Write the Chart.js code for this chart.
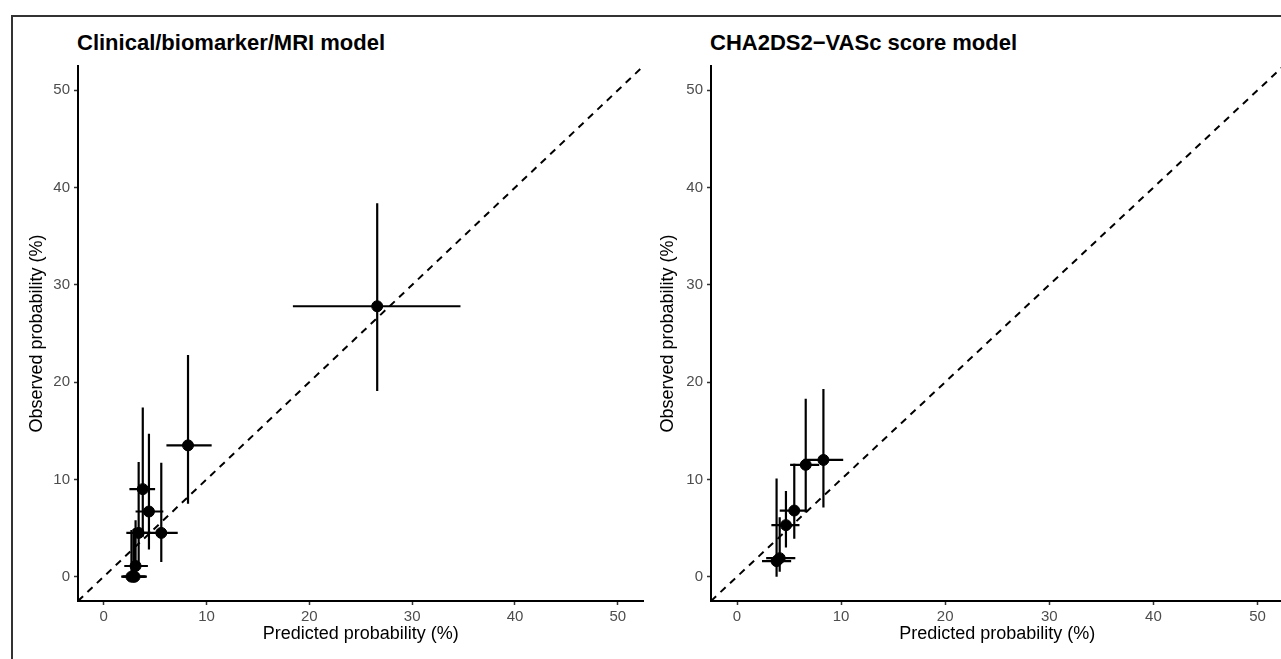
<!DOCTYPE html>
<html>
<head>
<meta charset="utf-8">
<script src="https://cdn.jsdelivr.net/npm/chart.js@4/dist/chart.umd.min.js"></script>
<style>
  html, body { margin: 0; padding: 0; background: #fff; overflow: hidden; }
  body { width: 1281px; height: 659px; position: relative; font-family: 'Liberation Sans', Arial, sans-serif; }
  #frame { position: absolute; left: 11px; top: 15px; width: 1300px; height: 700px; border: 2px solid #333; }
  .panelTitle { position: absolute; top: 30px; font-weight: bold; font-size: 22px; color: #000; white-space: nowrap; }
  #leftWrap { position: absolute; left: 14px; top: 18px; width: 636px; height: 641px; }
  #rightWrap { position: absolute; left: 650px; top: 18px; width: 640px; height: 641px; }
</style>
</head>
<body>
<div id="frame"></div>
<div class="panelTitle" style="left:77px">Clinical/biomarker/MRI model</div>
<div class="panelTitle" style="left:710px">CHA2DS2−VASc score model</div>
<div id="leftWrap"><canvas id="leftChart" width="636" height="641"></canvas></div>
<div id="rightWrap"><canvas id="rightChart" width="640" height="641"></canvas></div>
<script>
// tick labels, same on both axes of both panels
const tickVals = [0, 10, 20, 30, 40, 50];
const axisMin = -2.5;
const axisMax = 52.5;

// Clinical/biomarker/MRI model (%), risk groups
const leftPred   = [2.7, 2.9, 3.0, 3.1, 3.4, 3.8, 4.4, 5.6, 8.2, 26.6];
const leftObs    = [0.0, 0.0, 0.0, 1.1, 4.5, 9.0, 6.7, 4.5, 13.5, 27.8];
const leftPredLo = [1.7, 1.8, 1.9, 2.0, 2.2, 2.5, 3.1, 4.0, 6.1, 18.4];
const leftPredHi = [4.0, 4.1, 4.2, 4.3, 4.6, 5.0, 5.8, 7.2, 10.5, 34.7];
const leftObsLo  = [0.0, 0.0, 0.0, 0.1, 1.0, 4.1, 2.8, 1.5, 7.5, 19.1];
const leftObsHi  = [4.8, 4.9, 5.0, 5.8, 11.8, 17.4, 14.7, 11.7, 22.8, 38.4];

// CHA2DS2-VASc score model (%)
const rightPred   = [3.8, 4.1, 4.7, 5.5, 6.6, 8.3];
const rightObs    = [1.6, 1.9, 5.3, 6.8, 11.5, 12.0];
const rightPredLo = [2.4, 2.8, 3.3, 4.1, 5.1, 6.4];
const rightPredHi = [5.2, 5.6, 6.0, 6.7, 7.9, 10.2];
const rightObsLo  = [0.0, 0.5, 3.0, 3.9, 6.6, 7.1];
const rightObsHi  = [10.1, 6.1, 8.8, 11.6, 18.3, 19.3];

Chart.defaults.font.family = "'Liberation Sans', Arial, sans-serif";
Chart.defaults.animation = false;

// crosses for the confidence intervals, drawn under the points
function errorBars(pred, obs, predLo, predHi, obsLo, obsHi) {
  return {
    id: 'errorBars',
    beforeDatasetsDraw(chart) {
      const {ctx, chartArea, scales: {x, y}} = chart;
      ctx.save();
      ctx.beginPath();
      ctx.rect(chartArea.left, chartArea.top, chartArea.right - chartArea.left, chartArea.bottom - chartArea.top);
      ctx.clip();
      ctx.strokeStyle = '#000';
      ctx.lineWidth = 2.2;
      pred.forEach((p, i) => {
        ctx.beginPath();
        ctx.moveTo(x.getPixelForValue(predLo[i]), y.getPixelForValue(obs[i]));
        ctx.lineTo(x.getPixelForValue(predHi[i]), y.getPixelForValue(obs[i]));
        ctx.moveTo(x.getPixelForValue(p), y.getPixelForValue(obsLo[i]));
        ctx.lineTo(x.getPixelForValue(p), y.getPixelForValue(obsHi[i]));
        ctx.stroke();
      });
      ctx.restore();
    }
  };
}

function makeConfig(pred, obs, yTitlePad, rightPad) {
  const axis = (title, isX) => ({
    type: 'linear',
    min: axisMin,
    max: axisMax,
    afterBuildTicks: s => { s.ticks = tickVals.map(v => ({value: v})); },
    afterFit: s => { if (isX) s.height = 58; else s.width = yTitlePad.width; },
    grid: { display: true, drawOnChartArea: false, drawTicks: true, tickLength: 4, tickColor: '#333', tickWidth: 1.5 },
    border: { display: true, color: '#000', width: 2 },
    ticks: { color: '#4d4d4d', font: { size: 15 }, padding: isX ? 3 : 4, maxRotation: 0, autoSkip: false },
    title: {
      display: true,
      text: title,
      color: '#000',
      font: { size: 18 },
      padding: isX ? { top: 0, bottom: 14 } : { top: yTitlePad.top, bottom: 0 }
    }
  });
  return {
    type: 'scatter',
    data: {
      datasets: [
        {
          data: pred.map((p, i) => ({x: p, y: obs[i]})),
          backgroundColor: '#000',
          borderColor: '#000',
          pointRadius: 5.5,
          pointHoverRadius: 5.5
        },
        {
          type: 'line',
          data: [{x: axisMin, y: axisMin}, {x: axisMax, y: axisMax}],
          borderColor: '#000',
          borderWidth: 2,
          borderDash: [7, 6],
          pointRadius: 0,
          fill: false
        }
      ]
    },
    options: {
      responsive: false,
      layout: { padding: { left: 0, top: 48, right: rightPad, bottom: 0 } },
      plugins: { legend: { display: false }, tooltip: { enabled: false } },
      scales: {
        x: axis('Predicted probability (%)', true),
        y: axis('Observed probability (%)', false)
      }
    }
  };
}

const leftCfg = makeConfig(leftPred, leftObs, {width: 64, top: 12}, 4);
leftCfg.plugins = [errorBars(leftPred, leftObs, leftPredLo, leftPredHi, leftObsLo, leftObsHi)];
new Chart(document.getElementById('leftChart'), leftCfg);

const rightCfg = makeConfig(rightPred, rightObs, {width: 61, top: 7}, 5);
rightCfg.plugins = [errorBars(rightPred, rightObs, rightPredLo, rightPredHi, rightObsLo, rightObsHi)];
new Chart(document.getElementById('rightChart'), rightCfg);
</script>
</body>
</html>
